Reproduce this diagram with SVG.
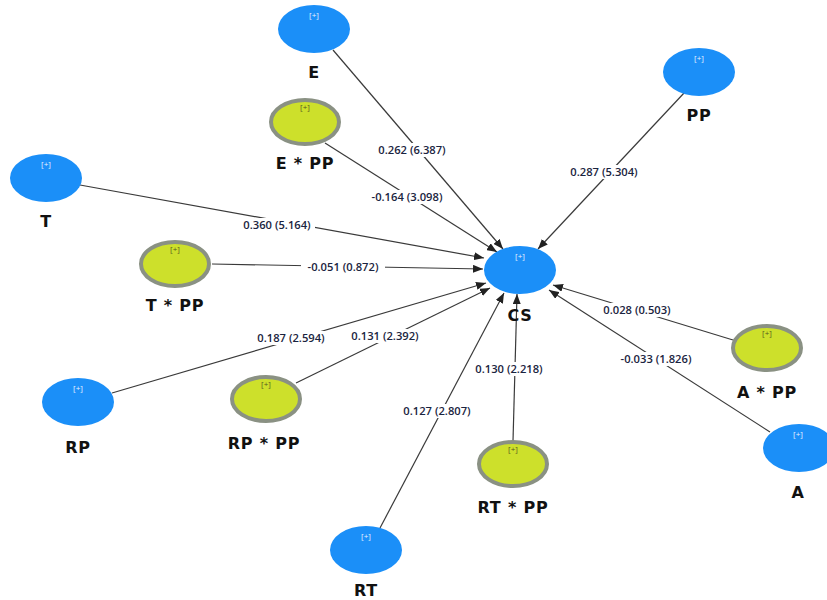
<svg xmlns="http://www.w3.org/2000/svg" width="827" height="600" viewBox="0 0 827 600">
<defs>
<style>
.bg{fill:#ffffff}
.edge{stroke:#3a3a3a;stroke-width:1.2;fill:none}
.blue{fill:#1b8ff8}
.green{fill:#cde02b;stroke:#8a9183;stroke-width:4}
.plus{font-family:"Open Sans","DejaVu Sans",sans-serif;font-size:8px;text-anchor:middle}
.pw{fill:#e8f2ff}
.pg{fill:#555a20}
.name{font-family:"DejaVu Sans",Verdana,sans-serif;font-size:16px;font-weight:bold;letter-spacing:0.8px;text-anchor:middle;fill:#111}
.lbl{font-family:"Open Sans","DejaVu Sans",sans-serif;font-size:11.2px;font-weight:600;text-anchor:middle;fill:#1a2440}
.lb{fill:#ffffff}
</style>
<marker id="ah" markerWidth="10" markerHeight="8" refX="10" refY="4" orient="auto" markerUnits="userSpaceOnUse">
<path d="M0,0 L10,4 L0,8 z" fill="#222"/>
</marker>
</defs>
<rect class="bg" x="0" y="0" width="827" height="600"/>
<g id="connectors">
<line class="edge" x1="333" y1="50" x2="503" y2="249" marker-end="url(#ah)"/>
<line class="edge" x1="325" y1="143" x2="497" y2="252" marker-end="url(#ah)"/>
<line class="edge" x1="684" y1="93" x2="538" y2="249" marker-end="url(#ah)"/>
<line class="edge" x1="80" y1="185" x2="484" y2="258" marker-end="url(#ah)"/>
<line class="edge" x1="212" y1="264" x2="483" y2="269" marker-end="url(#ah)"/>
<line class="edge" x1="112" y1="393" x2="486" y2="283" marker-end="url(#ah)"/>
<line class="edge" x1="296" y1="383" x2="490" y2="288" marker-end="url(#ah)"/>
<line class="edge" x1="380" y1="528" x2="504" y2="293" marker-end="url(#ah)"/>
<line class="edge" x1="513" y1="441" x2="517" y2="294" marker-end="url(#ah)"/>
<line class="edge" x1="733" y1="340" x2="553" y2="285" marker-end="url(#ah)"/>
<line class="edge" x1="770" y1="432" x2="549" y2="290" marker-end="url(#ah)"/>
<g id="edge-labels">
<rect class="lb" x="374" y="143" width="76" height="14"/><text class="lbl" x="412" y="154">0.262 (6.387)</text>
<rect class="lb" x="366" y="190" width="82" height="14"/><text class="lbl" x="407" y="201">-0.164 (3.098)</text>
<rect class="lb" x="566" y="165" width="76" height="14"/><text class="lbl" x="604" y="176">0.287 (5.304)</text>
<rect class="lb" x="239" y="218" width="76" height="14"/><text class="lbl" x="277" y="229">0.360 (5.164)</text>
<rect class="lb" x="301" y="260" width="84" height="14"/><text class="lbl" x="343" y="271">-0.051 (0.872)</text>
<rect class="lb" x="253" y="331" width="76" height="14"/><text class="lbl" x="291" y="342">0.187 (2.594)</text>
<rect class="lb" x="347" y="329" width="76" height="14"/><text class="lbl" x="385" y="340">0.131 (2.392)</text>
<rect class="lb" x="399" y="404" width="76" height="14"/><text class="lbl" x="437" y="415">0.127 (2.807)</text>
<rect class="lb" x="471" y="362" width="76" height="14"/><text class="lbl" x="509" y="373">0.130 (2.218)</text>
<rect class="lb" x="599" y="303" width="76" height="14"/><text class="lbl" x="637" y="314">0.028 (0.503)</text>
<rect class="lb" x="614" y="352" width="84" height="14"/><text class="lbl" x="656" y="363">-0.033 (1.826)</text>
</g>
</g>
<g id="CS"><ellipse class="blue" cx="520" cy="270" rx="36" ry="24"/><text class="plus pw" x="520" y="259">[+]</text><text class="name" x="520" y="321">CS</text></g>
<g id="E"><ellipse class="blue" cx="314" cy="29" rx="36" ry="24"/><text class="plus pw" x="314" y="18">[+]</text><text class="name" x="314" y="78">E</text></g>
<g id="E_PP"><ellipse class="green" cx="305" cy="122" rx="34" ry="22"/><text class="plus pg" x="305" y="110">[+]</text><text class="name" x="305" y="169">E * PP</text></g>
<g id="PP"><ellipse class="blue" cx="699" cy="72" rx="36" ry="24"/><text class="plus pw" x="699" y="61">[+]</text><text class="name" x="699" y="121">PP</text></g>
<g id="T"><ellipse class="blue" cx="46" cy="178" rx="36" ry="24"/><text class="plus pw" x="46" y="167">[+]</text><text class="name" x="46" y="227">T</text></g>
<g id="T_PP"><ellipse class="green" cx="175" cy="264" rx="34" ry="22"/><text class="plus pg" x="175" y="252">[+]</text><text class="name" x="175" y="311">T * PP</text></g>
<g id="RP"><ellipse class="blue" cx="78" cy="402" rx="36" ry="24"/><text class="plus pw" x="78" y="391">[+]</text><text class="name" x="78" y="453">RP</text></g>
<g id="RP_PP"><ellipse class="green" cx="266" cy="399" rx="34" ry="22"/><text class="plus pg" x="266" y="387">[+]</text><text class="name" x="264" y="449">RP * PP</text></g>
<g id="RT"><ellipse class="blue" cx="366" cy="550" rx="36" ry="24"/><text class="plus pw" x="366" y="539">[+]</text><text class="name" x="366" y="596">RT</text></g>
<g id="RT_PP"><ellipse class="green" cx="513" cy="464" rx="34" ry="22"/><text class="plus pg" x="513" y="452">[+]</text><text class="name" x="513" y="513">RT * PP</text></g>
<g id="A_PP"><ellipse class="green" cx="767" cy="348" rx="34" ry="22"/><text class="plus pg" x="767" y="336">[+]</text><text class="name" x="767" y="398">A * PP</text></g>
<g id="A"><ellipse class="blue" cx="799" cy="448" rx="36" ry="24"/><text class="plus pw" x="798" y="437">[+]</text><text class="name" x="798" y="498">A</text></g>
</svg>
